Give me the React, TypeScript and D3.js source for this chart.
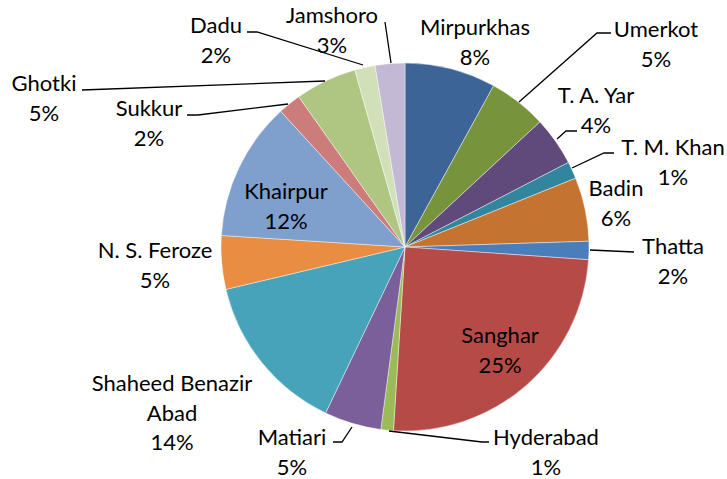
import React from "react";
import * as d3 from "d3";

const categories = [
  "Mirpurkhas", "Umerkot", "T. A. Yar", "T. M. Khan", "Badin", "Thatta",
  "Sanghar", "Hyderabad", "Matiari", "Shaheed Benazir Abad", "N. S. Feroze",
  "Khairpur", "Sukkur", "Ghotki", "Dadu", "Jamshoro",
];
const values = [8.0, 5.1, 4.3, 1.5, 5.6, 1.6, 24.9, 1.1, 5.0, 14.2, 4.7, 12.2, 2.0, 5.4, 1.8, 2.6];
const pctLabels = ["8%", "5%", "4%", "1%", "6%", "2%", "25%", "1%", "5%", "14%", "5%", "12%", "2%", "5%", "2%", "3%"];
const nameLines = [
  ["Mirpurkhas"], ["Umerkot"], ["T. A. Yar"], ["T. M. Khan"], ["Badin"], ["Thatta"],
  ["Sanghar"], ["Hyderabad"], ["Matiari"], ["Shaheed Benazir", "Abad"], ["N. S. Feroze"],
  ["Khairpur"], ["Sukkur"], ["Ghotki"], ["Dadu"], ["Jamshoro"],
];
const colors = [
  "#3C6496", "#77933C", "#604A7B", "#31859C", "#C47331", "#4A7EBB",
  "#B64A47", "#9BBB59", "#7B5F9A", "#46A3BA", "#E98D42",
  "#7F9FCC", "#CC7C7A", "#AEC682", "#D2E0BA", "#C4B9D4",
];

// label layout: center x, first-line visual center y
const labelPos: [number, number][] = [
  [475, 27], [656, 29], [596, 95], [673, 147], [616, 188], [673, 246],
  [500, 335], [546, 437], [292, 437], [172, 383], [155, 250],
  [286, 191], [149, 108], [44, 83], [216, 25], [332, 15],
];
// leader polylines (null = none)
const leaders: ([number, number][] | null)[] = [
  null,
  [[519, 102], [597, 33], [611, 33]],
  [[557, 139], [566, 131], [577, 131]],
  [[572, 168], [604, 153], [614, 153]],
  null,
  [[590, 250], [634, 252]],
  null,
  [[389, 431], [482, 442], [489, 442]],
  [[352, 427], [342, 442], [333, 442]],
  null,
  null,
  null,
  [[288, 104], [198, 115], [187, 115]],
  [[325, 81], [82, 90]],
  [[363, 65], [257, 32], [247, 32]],
  [[391, 63], [385, 22]],
];

export default function App() {
  const W = 727, H = 479;
  const cx = 405, cy = 247, r = 184;
  const pie = d3.pie<number>().sort(null).value((d) => d);
  const arcs = pie(values);
  const arc = d3.arc<d3.PieArcDatum<number>>().innerRadius(0).outerRadius(r);
  const line = d3.line();
  const lh = 29.5;
  const capHalf = 8;
  return (
    <svg width={W} height={H} style={{ position: "absolute", left: 0, top: 0 }}
      fontFamily="Lato, 'Open Sans', sans-serif" fontSize={22}>
      <rect width={W} height={H} fill="#fff" />
      <g transform={`translate(${cx},${cy})`}>
        {arcs.map((a, i) => (
          <path key={i} d={arc(a) || ""} fill={colors[i]} stroke="#fff" strokeWidth={0.6} strokeOpacity={0.7} />
        ))}
      </g>
      {leaders.map((l, i) => l ? (
        <path key={i} d={line(l) || ""} fill="none" stroke="#000" strokeWidth={1.3} />
      ) : null)}
      {categories.map((c, i) => {
        const [x, y] = labelPos[i];
        const lines = [...nameLines[i], pctLabels[i]];
        return (
          <text key={c} x={x} y={y} textAnchor="middle" fill="#000">
            {lines.map((t, j) => (
              <tspan key={j} x={x} y={y + capHalf + j * lh}>{t}</tspan>
            ))}
          </text>
        );
      })}
    </svg>
  );
}
